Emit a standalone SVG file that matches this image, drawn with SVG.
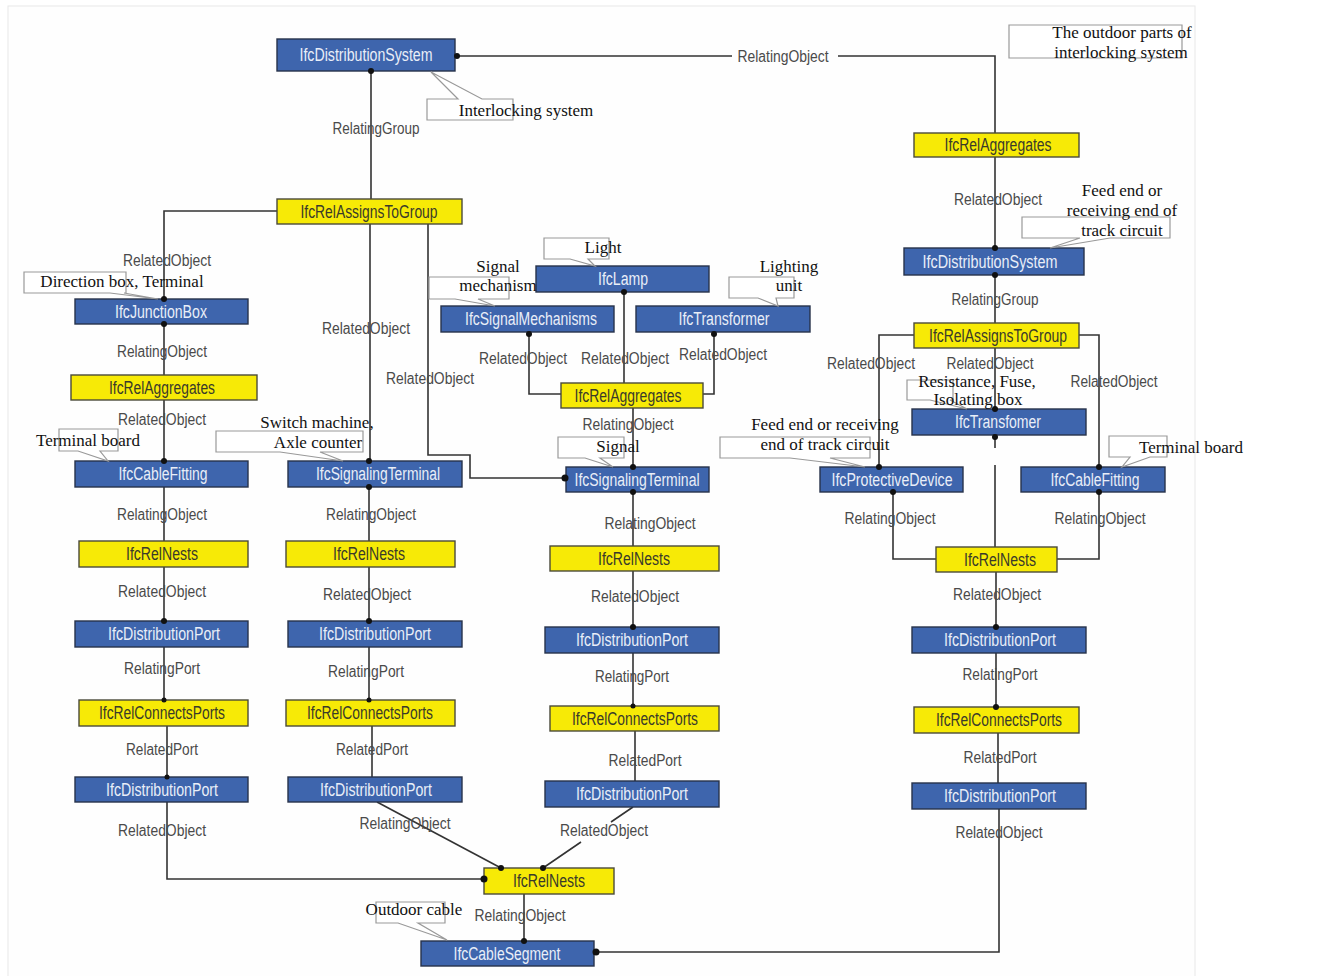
<svg xmlns="http://www.w3.org/2000/svg" width="1322" height="976" viewBox="0 0 1322 976">
<defs>
<style>
.ent rect{fill:#3e65ad;stroke:#27324a;stroke-width:1.4}
.ent text{fill:#e9eef8;font-family:"Liberation Sans",Arial,sans-serif;font-size:18px;text-anchor:middle;dominant-baseline:central}
.rel rect{fill:#f7ea06;stroke:#4a4a3a;stroke-width:1.4}
.rel text{fill:#3a3a2a;font-family:"Liberation Sans",Arial,sans-serif;font-size:18px;text-anchor:middle;dominant-baseline:central}
.lbl{fill:#4a4a4a;font-family:"Liberation Sans",Arial,sans-serif;font-size:16px;text-anchor:middle;dominant-baseline:central}
.note path{fill:#fff;stroke:#999;stroke-width:1.2}
.note text{fill:#111;font-family:"Liberation Serif","Times New Roman",serif;font-size:17px;text-anchor:middle;dominant-baseline:central}
.conn path{fill:none;stroke:#333;stroke-width:1.6}
.dot circle{fill:#111}
</style>
</defs>
<rect x="8" y="6" width="1187" height="980" fill="#fefefe" stroke="#e8e8e8" stroke-width="1"/>

<g id="connectors" class="conn">
<path d="M457,56 H732 M838,56 H995 V133"/>
<path d="M371,71 V199"/>
<path d="M277,211 H164 V299"/>
<path d="M164,324 V375"/>
<path d="M164,400 V461"/>
<path d="M164,487 V541"/>
<path d="M164,567 V621"/>
<path d="M164,647 V700"/>
<path d="M167,726 V777"/>
<path d="M167,802 V879 H484"/>
<path d="M370,224 V461"/>
<path d="M428,224 V455 H470 V478 H566"/>
<path d="M369,487 V541"/>
<path d="M369,567 V621"/>
<path d="M369,647 V700"/>
<path d="M372,726 V777"/>
<path d="M377,802 L501,868"/>
<path d="M633,807 L611,822 M581,842 L543,868"/>
<path d="M529,332 V394 H561"/>
<path d="M624,292 V383"/>
<path d="M714,332 V394 H703"/>
<path d="M633,408 V467"/>
<path d="M633,492 V546"/>
<path d="M633,571 V627"/>
<path d="M633,653 V706"/>
<path d="M635,731 V781"/>
<path d="M524,894 V941"/>
<path d="M596,952 H999 V809"/>
<path d="M995,157 V248"/>
<path d="M995,275 V323"/>
<path d="M914,335 H879 V467"/>
<path d="M1079,335 H1099 V467"/>
<path d="M995,348 V409"/>
<path d="M995,435 V448 M995,465 V547"/>
<path d="M893,492 V559 H936"/>
<path d="M1099,492 V559 H1057"/>
<path d="M996,572 V627"/>
<path d="M996,653 V707"/>
<path d="M998,733 V783"/>
</g>

<g id="connector-labels">
<text class="lbl" x="783" y="56" textLength="91" lengthAdjust="spacingAndGlyphs">RelatingObject</text>
<text class="lbl" x="376" y="128" textLength="87" lengthAdjust="spacingAndGlyphs">RelatingGroup</text>
<text class="lbl" x="167" y="260" textLength="88" lengthAdjust="spacingAndGlyphs">RelatedObject</text>
<text class="lbl" x="162" y="351" textLength="90" lengthAdjust="spacingAndGlyphs">RelatingObject</text>
<text class="lbl" x="162" y="419" textLength="88" lengthAdjust="spacingAndGlyphs">RelatedObject</text>
<text class="lbl" x="162" y="514" textLength="90" lengthAdjust="spacingAndGlyphs">RelatingObject</text>
<text class="lbl" x="162" y="591" textLength="88" lengthAdjust="spacingAndGlyphs">RelatedObject</text>
<text class="lbl" x="162" y="668" textLength="76" lengthAdjust="spacingAndGlyphs">RelatingPort</text>
<text class="lbl" x="162" y="749" textLength="72" lengthAdjust="spacingAndGlyphs">RelatedPort</text>
<text class="lbl" x="162" y="830" textLength="88" lengthAdjust="spacingAndGlyphs">RelatedObject</text>
<text class="lbl" x="366" y="328" textLength="88" lengthAdjust="spacingAndGlyphs">RelatedObject</text>
<text class="lbl" x="430" y="378" textLength="88" lengthAdjust="spacingAndGlyphs">RelatedObject</text>
<text class="lbl" x="371" y="514" textLength="90" lengthAdjust="spacingAndGlyphs">RelatingObject</text>
<text class="lbl" x="367" y="594" textLength="88" lengthAdjust="spacingAndGlyphs">RelatedObject</text>
<text class="lbl" x="366" y="671" textLength="76" lengthAdjust="spacingAndGlyphs">RelatingPort</text>
<text class="lbl" x="372" y="749" textLength="72" lengthAdjust="spacingAndGlyphs">RelatedPort</text>
<text class="lbl" x="405" y="823" textLength="91" lengthAdjust="spacingAndGlyphs">RelatingObject</text>
<text class="lbl" x="523" y="358" textLength="88" lengthAdjust="spacingAndGlyphs">RelatedObject</text>
<text class="lbl" x="625" y="358" textLength="88" lengthAdjust="spacingAndGlyphs">RelatedObject</text>
<text class="lbl" x="723" y="354" textLength="88" lengthAdjust="spacingAndGlyphs">RelatedObject</text>
<text class="lbl" x="628" y="424" textLength="91" lengthAdjust="spacingAndGlyphs">RelatingObject</text>
<text class="lbl" x="650" y="523" textLength="91" lengthAdjust="spacingAndGlyphs">RelatingObject</text>
<text class="lbl" x="635" y="596" textLength="88" lengthAdjust="spacingAndGlyphs">RelatedObject</text>
<text class="lbl" x="632" y="676" textLength="74" lengthAdjust="spacingAndGlyphs">RelatingPort</text>
<text class="lbl" x="645" y="760" textLength="73" lengthAdjust="spacingAndGlyphs">RelatedPort</text>
<text class="lbl" x="604" y="830" textLength="88" lengthAdjust="spacingAndGlyphs">RelatedObject</text>
<text class="lbl" x="520" y="915" textLength="91" lengthAdjust="spacingAndGlyphs">RelatingObject</text>
<text class="lbl" x="998" y="199" textLength="88" lengthAdjust="spacingAndGlyphs">RelatedObject</text>
<text class="lbl" x="995" y="299" textLength="87" lengthAdjust="spacingAndGlyphs">RelatingGroup</text>
<text class="lbl" x="871" y="363" textLength="88" lengthAdjust="spacingAndGlyphs">RelatedObject</text>
<text class="lbl" x="990" y="363" textLength="87" lengthAdjust="spacingAndGlyphs">RelatedObject</text>
<text class="lbl" x="1114" y="381" textLength="87" lengthAdjust="spacingAndGlyphs">RelatedObject</text>
<text class="lbl" x="890" y="518" textLength="91" lengthAdjust="spacingAndGlyphs">RelatingObject</text>
<text class="lbl" x="1100" y="518" textLength="91" lengthAdjust="spacingAndGlyphs">RelatingObject</text>
<text class="lbl" x="997" y="594" textLength="88" lengthAdjust="spacingAndGlyphs">RelatedObject</text>
<text class="lbl" x="1000" y="674" textLength="75" lengthAdjust="spacingAndGlyphs">RelatingPort</text>
<text class="lbl" x="1000" y="757" textLength="73" lengthAdjust="spacingAndGlyphs">RelatedPort</text>
<text class="lbl" x="999" y="832" textLength="87" lengthAdjust="spacingAndGlyphs">RelatedObject</text>
</g>

<g id="e-distsys" class="ent"><rect x="277" y="39" width="178" height="32"/><text x="366" y="55" textLength="133" lengthAdjust="spacingAndGlyphs">IfcDistributionSystem</text></g>
<g id="r-assign-l" class="rel"><rect x="277" y="199" width="185" height="25"/><text x="369" y="211.5" textLength="137" lengthAdjust="spacingAndGlyphs">IfcRelAssignsToGroup</text></g>
<g id="e-junction" class="ent"><rect x="75" y="299" width="173" height="25"/><text x="161" y="311.5" textLength="92" lengthAdjust="spacingAndGlyphs">IfcJunctionBox</text></g>
<g id="r-aggr-l" class="rel"><rect x="71" y="375" width="186" height="25"/><text x="162" y="387.5" textLength="106" lengthAdjust="spacingAndGlyphs">IfcRelAggregates</text></g>
<g id="e-cablefit-l" class="ent"><rect x="75" y="461" width="173" height="26"/><text x="163" y="474" textLength="89" lengthAdjust="spacingAndGlyphs">IfcCableFitting</text></g>
<g id="e-sigterm-l" class="ent"><rect x="288" y="461" width="174" height="26"/><text x="378" y="474" textLength="124" lengthAdjust="spacingAndGlyphs">IfcSignalingTerminal</text></g>
<g id="r-nests-l1" class="rel"><rect x="79" y="541" width="169" height="26"/><text x="162" y="554" textLength="72" lengthAdjust="spacingAndGlyphs">IfcRelNests</text></g>
<g id="r-nests-l2" class="rel"><rect x="286" y="541" width="169" height="26"/><text x="369" y="554" textLength="72" lengthAdjust="spacingAndGlyphs">IfcRelNests</text></g>
<g id="e-port-l1" class="ent"><rect x="75" y="621" width="173" height="26"/><text x="164" y="634" textLength="112" lengthAdjust="spacingAndGlyphs">IfcDistributionPort</text></g>
<g id="e-port-l2" class="ent"><rect x="288" y="621" width="174" height="26"/><text x="375" y="634" textLength="112" lengthAdjust="spacingAndGlyphs">IfcDistributionPort</text></g>
<g id="r-conn-l1" class="rel"><rect x="79" y="700" width="169" height="26"/><text x="162" y="713" textLength="126" lengthAdjust="spacingAndGlyphs">IfcRelConnectsPorts</text></g>
<g id="r-conn-l2" class="rel"><rect x="286" y="700" width="169" height="26"/><text x="370" y="713" textLength="126" lengthAdjust="spacingAndGlyphs">IfcRelConnectsPorts</text></g>
<g id="e-port-l1b" class="ent"><rect x="75" y="777" width="173" height="25"/><text x="162" y="789.5" textLength="112" lengthAdjust="spacingAndGlyphs">IfcDistributionPort</text></g>
<g id="e-port-l2b" class="ent"><rect x="288" y="777" width="174" height="25"/><text x="376" y="789.5" textLength="112" lengthAdjust="spacingAndGlyphs">IfcDistributionPort</text></g>

<g id="e-lamp" class="ent"><rect x="536" y="266" width="173" height="26"/><text x="623" y="279" textLength="50" lengthAdjust="spacingAndGlyphs">IfcLamp</text></g>
<g id="e-sigmech" class="ent"><rect x="441" y="306" width="173" height="26"/><text x="531" y="319" textLength="132" lengthAdjust="spacingAndGlyphs">IfcSignalMechanisms</text></g>
<g id="e-transformer" class="ent"><rect x="636" y="306" width="174" height="26"/><text x="724" y="319" textLength="91" lengthAdjust="spacingAndGlyphs">IfcTransformer</text></g>
<g id="r-aggr-m" class="rel"><rect x="561" y="383" width="142" height="25"/><text x="628" y="395.5" textLength="107" lengthAdjust="spacingAndGlyphs">IfcRelAggregates</text></g>
<g id="e-sigterm-m" class="ent"><rect x="566" y="467" width="143" height="25"/><text x="637" y="479.5" textLength="125" lengthAdjust="spacingAndGlyphs">IfcSignalingTerminal</text></g>
<g id="r-nests-m" class="rel"><rect x="550" y="546" width="169" height="25"/><text x="634" y="558.5" textLength="72" lengthAdjust="spacingAndGlyphs">IfcRelNests</text></g>
<g id="e-port-m" class="ent"><rect x="545" y="627" width="174" height="26"/><text x="632" y="640" textLength="112" lengthAdjust="spacingAndGlyphs">IfcDistributionPort</text></g>
<g id="r-conn-m" class="rel"><rect x="550" y="706" width="169" height="25"/><text x="635" y="718.5" textLength="126" lengthAdjust="spacingAndGlyphs">IfcRelConnectsPorts</text></g>
<g id="e-port-mb" class="ent"><rect x="545" y="781" width="174" height="26"/><text x="632" y="794" textLength="112" lengthAdjust="spacingAndGlyphs">IfcDistributionPort</text></g>
<g id="r-nests-b" class="rel"><rect x="484" y="868" width="130" height="26"/><text x="549" y="881" textLength="72" lengthAdjust="spacingAndGlyphs">IfcRelNests</text></g>
<g id="e-cableseg" class="ent"><rect x="421" y="941" width="173" height="25"/><text x="507" y="953.5" textLength="107" lengthAdjust="spacingAndGlyphs">IfcCableSegment</text></g>

<g id="r-aggr-r" class="rel"><rect x="914" y="133" width="165" height="24"/><text x="998" y="145" textLength="107" lengthAdjust="spacingAndGlyphs">IfcRelAggregates</text></g>
<g id="e-distsys-r" class="ent"><rect x="904" y="248" width="180" height="27"/><text x="990" y="261.5" textLength="135" lengthAdjust="spacingAndGlyphs">IfcDistributionSystem</text></g>
<g id="r-assign-r" class="rel"><rect x="914" y="323" width="165" height="25"/><text x="998" y="335.5" textLength="138" lengthAdjust="spacingAndGlyphs">IfcRelAssignsToGroup</text></g>
<g id="e-transfomer" class="ent"><rect x="912" y="409" width="174" height="26"/><text x="998" y="422" textLength="86" lengthAdjust="spacingAndGlyphs">IfcTransfomer</text></g>
<g id="e-protective" class="ent"><rect x="820" y="467" width="143" height="25"/><text x="892" y="479.5" textLength="121" lengthAdjust="spacingAndGlyphs">IfcProtectiveDevice</text></g>
<g id="e-cablefit-r" class="ent"><rect x="1021" y="467" width="144" height="25"/><text x="1095" y="479.5" textLength="89" lengthAdjust="spacingAndGlyphs">IfcCableFitting</text></g>
<g id="r-nests-r" class="rel"><rect x="936" y="547" width="121" height="25"/><text x="1000" y="559.5" textLength="72" lengthAdjust="spacingAndGlyphs">IfcRelNests</text></g>
<g id="e-port-r" class="ent"><rect x="912" y="627" width="174" height="26"/><text x="1000" y="640" textLength="112" lengthAdjust="spacingAndGlyphs">IfcDistributionPort</text></g>
<g id="r-conn-r" class="rel"><rect x="914" y="707" width="165" height="26"/><text x="999" y="720" textLength="126" lengthAdjust="spacingAndGlyphs">IfcRelConnectsPorts</text></g>
<g id="e-port-rb" class="ent"><rect x="912" y="783" width="174" height="26"/><text x="1000" y="796" textLength="112" lengthAdjust="spacingAndGlyphs">IfcDistributionPort</text></g>

<g id="dots" class="dot">
<circle cx="457" cy="56" r="3"/><circle cx="371" cy="71" r="3"/>
<circle cx="164" cy="299" r="3"/><circle cx="164" cy="324" r="3"/><circle cx="164" cy="461" r="3"/>
<circle cx="164" cy="621" r="3"/><circle cx="164" cy="700" r="2.5"/><circle cx="167" cy="777" r="2.5"/>
<circle cx="369" cy="461" r="3"/><circle cx="369" cy="487" r="3"/><circle cx="369" cy="621" r="3"/><circle cx="369" cy="700" r="2.5"/>
<circle cx="484" cy="879" r="3.5"/><circle cx="501" cy="868" r="3"/><circle cx="543" cy="868" r="3"/>
<circle cx="565" cy="478" r="3.5"/><circle cx="529" cy="334" r="3"/><circle cx="624" cy="292" r="3"/><circle cx="714" cy="334" r="3"/>
<circle cx="633" cy="467" r="3"/><circle cx="633" cy="492" r="3"/><circle cx="633" cy="627" r="3"/><circle cx="633" cy="706" r="2.5"/>
<circle cx="524" cy="941" r="3"/><circle cx="596" cy="952" r="3.5"/>
<circle cx="995" cy="248" r="3"/><circle cx="995" cy="275" r="3"/><circle cx="995" cy="409" r="3"/><circle cx="995" cy="437" r="3"/>
<circle cx="879" cy="467" r="3"/><circle cx="1099" cy="467" r="3"/><circle cx="893" cy="492" r="3"/><circle cx="1099" cy="492" r="3"/>
<circle cx="996" cy="627" r="3"/><circle cx="996" cy="707" r="3"/>
</g>

<g id="note-interlocking" class="note"><path d="M427,99 H458 L431,72 L482,99 H513 V120 H427 Z"/><text x="526" y="110">Interlocking system</text></g>
<g id="note-direction" class="note"><path d="M24,272 H126 V293 H124 L158,299 L110,293 H24 Z"/><text x="122" y="281">Direction box, Terminal</text></g>
<g id="note-light" class="note"><path d="M544,238 H609 V259 H588 L595,266 L570,259 H544 Z"/><text x="603" y="247">Light</text></g>
<g id="note-sigmech" class="note"><path d="M429,277 H509 V299 H478 L495,306 L455,299 H429 Z"/><text x="498" y="266">Signal</text><text x="498" y="285">mechanism</text></g>
<g id="note-lighting" class="note"><path d="M729,277 H794 V298 H776 L778,306 L758,298 H729 Z"/><text x="789" y="266">Lighting</text><text x="789" y="285">unit</text></g>
<g id="note-outdoor" class="note"><path d="M1009,25 H1182 V58 H1009 Z"/><text x="1122" y="32">The outdoor parts of</text><text x="1121" y="52">interlocking system</text></g>
<g id="note-feed-r" class="note"><path d="M1022,217 H1170 V238 H1110 L1050,248 L1080,238 H1022 Z"/><text x="1122" y="190">Feed end or</text><text x="1122" y="210">receiving end of</text><text x="1122" y="230">track circuit</text></g>
<g id="note-terminal-l" class="note"><path d="M59,429 H118 V451 H100 L108,461 L78,451 H59 Z"/><text x="88" y="440">Terminal board</text></g>
<g id="note-switch" class="note"><path d="M216,431 H363 V452 H320 L343,461 L280,452 H216 Z"/><text x="317" y="422">Switch machine,</text><text x="318" y="442">Axle counter</text></g>
<g id="note-signal" class="note"><path d="M558,437 H624 V458 H600 L613,467 L585,458 H558 Z"/><text x="618" y="446">Signal</text></g>
<g id="note-feed-m" class="note"><path d="M720,437 H870 V458 H830 L865,467 L790,458 H720 Z"/><text x="825" y="424">Feed end or receiving</text><text x="825" y="444">end of track circuit</text></g>
<g id="note-resist" class="note"><path d="M907,380 H953 V400 H950 L967,409 L930,400 H907 Z"/><text x="977" y="381">Resistance, Fuse,</text><text x="978" y="399">Isolating box</text></g>
<g id="note-terminal-r" class="note"><path d="M1109,436 H1167 V457 H1150 L1122,467 L1130,457 H1109 Z"/><text x="1191" y="447">Terminal board</text></g>
<g id="note-cable" class="note"><path d="M376,902 H445 V923 H418 L447,940 L398,923 H376 Z"/><text x="414" y="909">Outdoor cable</text></g>
</svg>
